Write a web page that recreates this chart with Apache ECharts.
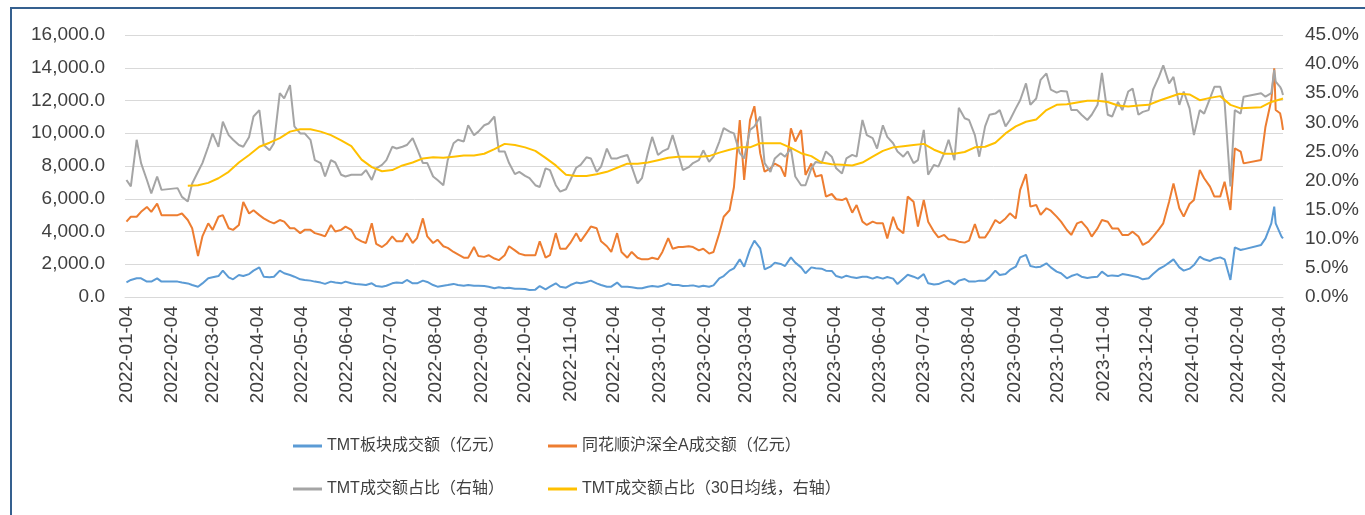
<!DOCTYPE html>
<html>
<head>
<meta charset="utf-8">
<title>TMT成交额占比</title>
<script src="https://cdn.jsdelivr.net/npm/echarts@6/dist/echarts.min.js"></script>
<style>
    html, body { margin: 0; padding: 0; background: #fff; overflow: hidden; }
    #chart { width: 1365px; height: 515px; }
</style>
</head>
<body>
<div id="chart"></div>
<script>
// sample dates (Tue / Fri)
const dates = [
    '2022-01-04','2022-01-07','2022-01-11','2022-01-14','2022-01-18','2022-01-21','2022-01-25','2022-01-28',
    '2022-02-08','2022-02-11','2022-02-15','2022-02-18','2022-02-22','2022-02-25',
    '2022-03-01','2022-03-04','2022-03-08','2022-03-11','2022-03-15','2022-03-18','2022-03-22','2022-03-25','2022-03-29',
    '2022-04-01','2022-04-05','2022-04-08','2022-04-12','2022-04-15','2022-04-19','2022-04-22','2022-04-26','2022-04-29',
    '2022-05-03','2022-05-06','2022-05-10','2022-05-13','2022-05-17','2022-05-20',
    '2022-05-24','2022-05-27','2022-05-31',
    '2022-06-03','2022-06-07','2022-06-10','2022-06-14','2022-06-17','2022-06-21','2022-06-24','2022-06-28',
    '2022-07-01','2022-07-05','2022-07-08','2022-07-12','2022-07-15','2022-07-19','2022-07-22','2022-07-26','2022-07-29',
    '2022-08-02','2022-08-05','2022-08-09','2022-08-12','2022-08-16','2022-08-19','2022-08-23','2022-08-26','2022-08-30',
    '2022-09-02','2022-09-06','2022-09-09','2022-09-13','2022-09-16','2022-09-20','2022-09-23','2022-09-27','2022-09-30',
    '2022-10-04','2022-10-07','2022-10-11','2022-10-14','2022-10-18',
    '2022-10-21','2022-10-25','2022-10-28',
    '2022-11-01','2022-11-04','2022-11-08','2022-11-11','2022-11-15','2022-11-18','2022-11-22','2022-11-25','2022-11-29',
    '2022-12-02','2022-12-06','2022-12-09','2022-12-13','2022-12-16','2022-12-20','2022-12-23','2022-12-27','2022-12-30',
    '2023-01-03','2023-01-06','2023-01-10','2023-01-13','2023-01-17','2023-01-20','2023-01-24','2023-01-27','2023-01-31',
    '2023-02-03','2023-02-07','2023-02-10','2023-02-14','2023-02-17','2023-02-21','2023-02-24','2023-02-28',
    '2023-03-03','2023-03-07','2023-03-10','2023-03-14','2023-03-17','2023-03-21','2023-03-24',
    '2023-03-28','2023-03-31',
    '2023-04-04','2023-04-07','2023-04-11','2023-04-14','2023-04-18','2023-04-21','2023-04-25','2023-04-28',
    '2023-05-02','2023-05-05','2023-05-09','2023-05-12','2023-05-16','2023-05-19','2023-05-23','2023-05-26','2023-05-30',
    '2023-06-02','2023-06-06','2023-06-09','2023-06-13','2023-06-16','2023-06-20','2023-06-23','2023-06-27','2023-06-30',
    '2023-07-04','2023-07-07','2023-07-11','2023-07-14','2023-07-18','2023-07-21','2023-07-25','2023-07-28',
    '2023-08-01','2023-08-04','2023-08-08','2023-08-11','2023-08-15','2023-08-18','2023-08-22','2023-08-25','2023-08-29',
    '2023-09-01','2023-09-05','2023-09-08','2023-09-12','2023-09-15','2023-09-19','2023-09-22','2023-09-26','2023-09-29',
    '2023-10-03','2023-10-06','2023-10-10','2023-10-13','2023-10-17','2023-10-20','2023-10-24','2023-10-27','2023-10-31',
    '2023-11-03','2023-11-07','2023-11-10','2023-11-14','2023-11-17','2023-11-21','2023-11-24','2023-11-28',
    '2023-12-01','2023-12-05','2023-12-08','2023-12-12','2023-12-15','2023-12-19','2023-12-22','2023-12-26','2023-12-29',
    '2024-01-02','2024-01-05','2024-01-09','2024-01-12','2024-01-16','2024-01-19','2024-01-23','2024-01-26','2024-01-30',
    '2024-02-02',
    '2024-02-06','2024-02-08','2024-02-20','2024-02-23','2024-02-27','2024-02-29','2024-03-01','2024-03-04','2024-03-05','2024-03-06'
];

// TMT板块成交额（亿元）
const tmtAmount = [
    900,1040,1140,1140,940,940,1140,940,
    940,880,830,730,630,830,1140,1200,1280,1610,1200,1080,1340,1280,1400,1610,1810,1240,1200,1240,1610,1450,1340,1240,1080,1040,1000,940,880,800,
    940,880,835,940,835,800,770,730,835,670,
    630,690,835,880,860,1040,835,835,1000,920,
    730,630,690,730,800,730,690,730,690,690,
    670,630,530,590,530,570,510,510,490,430,
    450,670,470,
    630,835,630,570,730,880,835,920,1000,835,
    730,630,630,880,630,630,590,530,530,630,
    670,630,690,835,730,730,670,690,710,630,
    690,630,710,1140,1280,1610,1750,2300,1850,2910,
    3440,2970,1690,1850,2100,
    2020,1890,2420,2100,1810,1450,1810,1750,1730,1610,
    1590,1280,1180,1300,1200,1160,1240,1240,1120,1220,
    1120,1220,1120,790,1120,1360,1240,1120,1400,835,
    770,790,940,1000,770,1000,1100,940,940,1000,
    1000,1200,1610,1340,1400,
    1650,1850,2420,2570,1890,1810,1850,2060,1810,1550,
    1450,1140,1280,1400,1240,1160,1200,1240,1550,1280,
    1320,1280,1400,1340,1280,1200,1080,1140,1400,1710,
    1850,2100,2300,1810,1610,1730,1950,2460,2300,2200,
    2340,2420,2300,1040,3030,
    2870,2910,3180,3580,4500,5520,4500,3890,3690,3580
];

// 同花顺沪深全A成交额（亿元）
const marketAmount = [
    4600,4900,4900,5200,5500,5200,5700,5000,
    5000,5100,4700,4200,2500,3700,4500,4100,4900,5000,4200,4100,4400,5800,5100,5300,5000,4800,4600,4500,4700,4600,4200,4200,3900,4100,4100,3900,3800,3700,
    4400,4000,4100,4300,4100,3600,3400,3300,4500,3250,
    3050,3250,3700,3400,3400,3900,3300,3600,4800,3700,
    3300,3500,3100,3000,2750,2600,2400,2400,3050,2500,
    2450,2550,2350,2250,2550,3100,2850,2650,2550,2550,
    2550,3400,2400,
    2550,3900,2950,2950,3300,3900,3400,3900,4300,4200,
    3400,3100,2750,3900,2750,2400,2750,2400,2300,2300,
    2400,2300,2750,3600,2950,3050,3050,3100,3050,2850,
    2950,2650,2750,3900,4900,5300,6700,10800,7150,10800,
    11650,8770,7650,7850,8150,
    7950,7350,10300,9500,10200,7450,8150,7350,7450,6130,
    6290,5970,5920,6030,5150,5620,4600,4400,4600,4500,
    4500,3580,4900,4190,3890,6130,5820,4300,5920,4600,
    3990,3640,3790,3520,3480,3380,3320,3440,4460,3640,
    3640,4050,4700,4500,4800,
    5110,4800,6540,7500,5520,5620,5010,5420,5270,4910,
    4600,4090,3790,4500,4600,4190,3690,4190,4700,4600,
    4190,4190,3790,3790,3990,3690,3180,3380,3690,4130,
    4500,5820,6940,5420,4910,5680,5920,7760,7250,6740,
    6130,6130,7040,5310,9080,
    8880,8160,8370,10400,12030,13970,11420,11220,10810,10200
];

// TMT成交额占比（右轴, %）
const tmtShare = [
    20.1,19.0,27.0,23.0,20.1,17.8,20.7,18.4,
    18.7,17.2,16.4,19.5,21.5,23.0,25.8,28.1,25.8,30.1,27.8,27.0,26.1,25.8,27.5,31.0,32.1,26.1,25.2,26.4,35.0,34.1,36.4,29.3,28.1,28.1,27.0,23.5,23.0,20.7,
    23.5,23.1,21.0,20.7,21.0,21.0,21.0,21.8,20.1,22.1,
    22.7,23.5,25.8,25.5,25.8,26.1,27.3,25.5,23.0,23.0,
    20.7,20.1,19.2,23.5,26.4,27.0,26.7,29.5,27.8,28.4,
    29.5,29.8,31.0,25.0,25.0,23.0,21.1,21.5,20.8,20.4,
    19.2,18.9,22.1,
    21.8,19.2,18.1,18.5,20.1,22.2,22.7,24.0,23.8,21.5,
    22.4,25.5,23.8,23.8,24.1,24.4,22.4,19.5,20.4,24.7,
    27.5,24.4,25.0,25.5,27.8,24.4,21.8,22.3,23.0,23.5,
    25.2,23.2,24.1,26.7,29.0,28.4,28.1,24.7,23.8,28.7,
    29.3,31.0,23.0,21.5,23.8,
    24.7,24.1,25.5,20.7,19.2,19.2,22.1,23.2,23.0,25.0,
    24.1,22.1,21.2,23.8,24.4,24.1,30.4,27.8,27.3,25.5,
    29.5,27.5,26.4,25.0,24.1,25.0,23.0,23.5,28.7,21.0,
    22.7,22.4,24.7,27.0,23.5,32.5,30.7,30.4,27.8,24.1,
    29.3,31.3,31.5,32.1,29.3,
    30.4,32.4,33.8,36.7,33.0,34.1,37.3,38.4,35.6,35.1,
    35.4,35.3,32.1,32.1,31.3,30.4,31.3,33.0,38.5,31.3,
    31.0,33.5,32.1,35.3,35.8,31.3,31.8,32.1,35.6,37.8,
    39.8,36.7,37.8,33.0,35.3,32.4,27.8,32.1,31.5,34.1,
    36.1,36.1,33.5,19.0,32.1,
    31.5,34.4,35.0,34.4,35.0,39.0,37.0,36.1,35.6,34.7
];

// 30日均线 sampled weekly
const maDates = [
    '2022-02-15','2022-02-22','2022-03-01','2022-03-08','2022-03-15','2022-03-22','2022-03-29','2022-04-05','2022-04-12','2022-04-19','2022-04-26','2022-05-03','2022-05-10','2022-05-17',
    '2022-05-24','2022-05-31','2022-06-07','2022-06-14','2022-06-21','2022-06-28','2022-07-05','2022-07-12','2022-07-19','2022-07-26','2022-08-02',
    '2022-08-09','2022-08-16','2022-08-23','2022-08-30','2022-09-06','2022-09-13','2022-09-20','2022-09-27','2022-10-04','2022-10-11','2022-10-18',
    '2022-10-25','2022-11-01','2022-11-08','2022-11-15','2022-11-22','2022-11-29','2022-12-06','2022-12-13','2022-12-20','2022-12-27',
    '2023-01-03','2023-01-10','2023-01-17','2023-01-24','2023-01-31','2023-02-07','2023-02-14','2023-02-21','2023-02-28','2023-03-07','2023-03-14','2023-03-21',
    '2023-03-28','2023-04-04','2023-04-11','2023-04-18','2023-04-25','2023-05-02','2023-05-09','2023-05-16','2023-05-23','2023-05-30','2023-06-06','2023-06-13',
    '2023-06-20','2023-06-27','2023-07-04','2023-07-11','2023-07-18','2023-07-25','2023-08-01','2023-08-08','2023-08-15','2023-08-22','2023-08-29',
    '2023-09-05','2023-09-12','2023-09-19','2023-09-26','2023-10-03','2023-10-10','2023-10-17','2023-10-24','2023-10-31','2023-11-07','2023-11-14',
    '2023-11-21','2023-11-28','2023-12-05','2023-12-12','2023-12-19','2023-12-26','2024-01-02','2024-01-09','2024-01-16','2024-01-23','2024-01-30',
    '2024-02-06','2024-02-20','2024-02-27','2024-03-05','2024-03-06'
];
const tmtShareMa30 = [
    19.1,19.2,19.6,20.4,21.5,23.1,24.4,25.8,26.5,27.3,28.4,28.8,28.8,28.4,
    27.8,26.9,25.9,23.6,22.3,21.6,21.8,22.6,23.1,23.8,24.0,
    23.9,24.1,24.3,24.3,24.6,25.4,26.3,26.1,25.7,25.1,23.9,
    22.6,21.0,20.8,20.8,21.1,21.5,22.2,22.9,22.9,23.1,
    23.5,23.9,24.1,24.1,24.1,24.2,24.8,25.3,25.7,25.7,26.4,26.4,
    26.4,25.6,24.7,24.2,23.1,22.8,22.7,22.6,23.1,24.1,25.1,25.7,
    25.9,26.1,26.3,25.3,24.6,24.6,24.9,25.7,25.8,26.5,28.1,
    29.3,30.1,30.5,32.1,33.0,33.1,33.4,33.7,33.7,33.5,32.9,
    32.7,32.9,33.0,33.7,34.3,34.9,34.8,33.8,34.2,34.5,33.0,
    32.4,32.6,33.5,34.0,34.1
];

// x axis labels
const monthTicks = [
    '2022-01-04','2022-02-04','2022-03-04','2022-04-04','2022-05-04','2022-06-04','2022-07-04','2022-08-04','2022-09-04',
    '2022-10-04','2022-11-04','2022-12-04','2023-01-04','2023-02-04','2023-03-04','2023-04-04','2023-05-04','2023-06-04',
    '2023-07-04','2023-08-04','2023-09-04','2023-10-04','2023-11-04','2023-12-04','2024-01-04','2024-02-04','2024-03-04'
];

const seriesNames = [
    'TMT板块成交额（亿元）',
    '同花顺沪深全A成交额（亿元）',
    'TMT成交额占比（右轴）',
    'TMT成交额占比（30日均线，右轴）'
];
const colors = ['#5B9BD5', '#ED7D31', '#A5A5A5', '#FFC000'];

const axisFont = "'Liberation Sans', Arial, sans-serif";
const textColor = '#404040';

// dates -> day timestamps (UTC) so a plain value axis can carry them
const toTime = s => {
    const p = s.split('-');
    return Date.UTC(+p[0], +p[1] - 1, +p[2]);
};
const pad = n => (n < 10 ? '0' : '') + n;
const pair = (xs, ys) => xs.map((d, i) => [toTime(d), ys[i]]);

const chart = echarts.init(document.getElementById('chart'));

const legendBase = {
    selectedMode: false,
    icon: 'rect',
    itemWidth: 29,
    itemHeight: 3,
    itemGap: 0,
    textStyle: { fontSize: 16, color: textColor, fontFamily: "'Liberation Sans', 'Noto Sans CJK SC', sans-serif" }
};

const lineSeries = (i, data, yIdx) => ({
    name: seriesNames[i],
    type: 'line',
    yAxisIndex: yIdx,
    data: data,
    showSymbol: false,
    symbol: 'none',
    color: colors[i],
    lineStyle: { width: 2, color: colors[i] }
});

chart.setOption({
    animation: false,
    backgroundColor: '#fff',
    grid: { left: 125, right: 82, top: 35, bottom: 218 },
    graphic: [{
        type: 'polyline',
        silent: true,
        shape: { points: [[11, 515], [11, 8], [1365, 8]] },
        style: { stroke: '#35608F', lineWidth: 2, fill: 'none' }
    }],
    legend: [
        Object.assign({ data: [seriesNames[0]], left: 288, top: 433 }, legendBase),
        Object.assign({ data: [seriesNames[1]], left: 543, top: 433 }, legendBase),
        Object.assign({ data: [seriesNames[2]], left: 288, top: 476 }, legendBase),
        Object.assign({ data: [seriesNames[3]], left: 543, top: 476 }, legendBase)
    ],
    xAxis: {
        type: 'value',
        min: toTime('2022-01-03'),
        max: toTime('2024-03-06'),
        axisLine: { lineStyle: { color: '#D9D9D9', width: 1 } },
        axisTick: { show: false },
        splitLine: { show: false },
        axisLabel: {
            customValues: monthTicks.map(toTime),
            rotate: 90,
            margin: 9,
            fontSize: 19,
            color: textColor,
            fontFamily: axisFont,
            formatter: v => {
                const d = new Date(v);
                return d.getUTCFullYear() + '-' + pad(d.getUTCMonth() + 1) + '-' + pad(d.getUTCDate());
            }
        }
    },
    yAxis: [{
        type: 'value',
        min: 0,
        max: 16000,
        interval: 2000,
        axisLine: { show: false },
        axisTick: { show: false },
        splitLine: { lineStyle: { color: '#D9D9D9', width: 1 } },
        axisLabel: {
            margin: 20,
            fontSize: 19,
            color: textColor,
            fontFamily: axisFont,
            formatter: v => v.toLocaleString('en-US', { minimumFractionDigits: 1, maximumFractionDigits: 1 })
        }
    }, {
        type: 'value',
        min: 0,
        max: 45,
        interval: 5,
        position: 'right',
        axisLine: { show: false },
        axisTick: { show: false },
        splitLine: { show: false },
        axisLabel: {
            margin: 22,
            fontSize: 19,
            color: textColor,
            fontFamily: axisFont,
            formatter: v => v.toFixed(1) + '%'
        }
    }],
    series: [
        lineSeries(0, pair(dates, tmtAmount), 0),
        lineSeries(1, pair(dates, marketAmount), 0),
        lineSeries(2, pair(dates, tmtShare), 1),
        lineSeries(3, pair(maDates, tmtShareMa30), 1)
    ]
});
</script>
</body>
</html>
